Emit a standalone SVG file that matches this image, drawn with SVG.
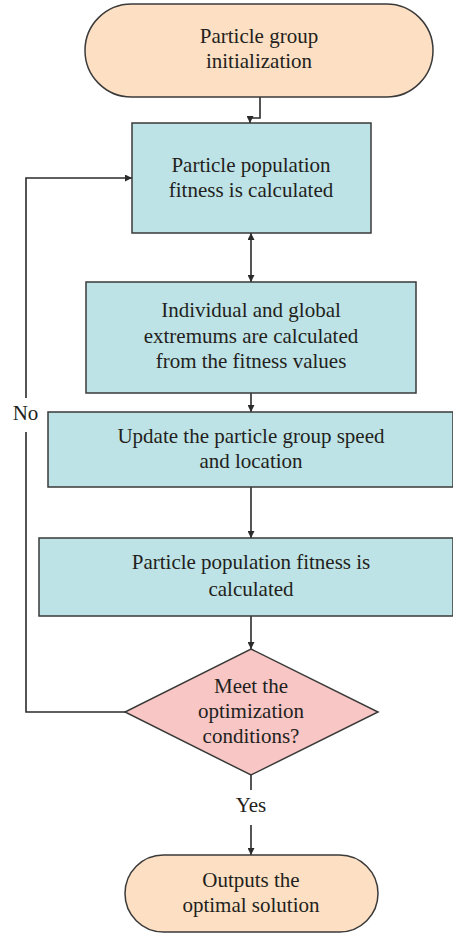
<svg xmlns="http://www.w3.org/2000/svg" width="453" height="934" viewBox="0 0 453 934">
  <style>
    .term { fill: #fde0c3; stroke: #3a3a3a; stroke-width: 1.5; }
    .proc { fill: #bee3e6; stroke: #3a3a3a; stroke-width: 1.5; }
    .dec { fill: #f8c6c5; stroke: #3a3a3a; stroke-width: 1.5; }
    .conn { fill: none; stroke: #2b2b2b; stroke-width: 1.6; }
    text { font-family: "Liberation Serif", "Times New Roman", serif; font-size: 21px; fill: #231f20; text-anchor: middle; }
  </style>
  <defs>
    <marker id="arrow" viewBox="0 0 10 10" refX="10" refY="5" markerWidth="7" markerHeight="7" markerUnits="userSpaceOnUse" orient="auto-start-reverse">
      <path d="M0,0 L10,5 L0,10 z" fill="#2b2b2b"/>
    </marker>
  </defs>

  <g id="connectors">
    <path class="conn" d="M260,97 V118 H250 V123" marker-end="url(#arrow)"/>
    <path class="conn" d="M251,233 V282" marker-start="url(#arrow)" marker-end="url(#arrow)"/>
    <path class="conn" d="M251,393 V412" marker-end="url(#arrow)"/>
    <path class="conn" d="M251,487 V538" marker-end="url(#arrow)"/>
    <path class="conn" d="M251,616 V649" marker-end="url(#arrow)"/>
    <path class="conn" d="M125,712 H26 V432"/>
    <path class="conn" d="M26,398 V178 H132" marker-end="url(#arrow)"/>
    <path class="conn" d="M251,775 V790"/>
    <path class="conn" d="M251,825 V855" marker-end="url(#arrow)"/>
    <text x="25.5" y="420">No</text>
    <text x="251" y="812">Yes</text>
  </g>

  <g id="start">
    <rect class="term" x="85" y="4" width="348" height="93" rx="46.5" ry="46.5"/>
    <text x="259" y="43">Particle group</text>
    <text x="259" y="68">initialization</text>
  </g>

  <g id="fitness1">
    <rect class="proc" x="132" y="123" width="239" height="110"/>
    <text x="251" y="172">Particle population</text>
    <text x="251" y="197">fitness is calculated</text>
  </g>

  <g id="extremums">
    <rect class="proc" x="86" y="282" width="330" height="111"/>
    <text x="251" y="317">Individual and global</text>
    <text x="251" y="343">extremums are calculated</text>
    <text x="251" y="368">from the fitness values</text>
  </g>

  <g id="update">
    <rect class="proc" x="48" y="412" width="405" height="75"/>
    <text x="251" y="443">Update the particle group speed</text>
    <text x="251" y="468">and location</text>
  </g>

  <g id="fitness2">
    <rect class="proc" x="39" y="538" width="414" height="78"/>
    <text x="251" y="569">Particle population fitness is</text>
    <text x="251" y="596">calculated</text>
  </g>

  <g id="condition">
    <polygon class="dec" points="251,649 378,712 251,775 125,712"/>
    <text x="251" y="693">Meet the</text>
    <text x="251" y="718">optimization</text>
    <text x="251" y="743">conditions?</text>
  </g>

  <g id="end">
    <rect class="term" x="125" y="855" width="253" height="77" rx="38.5" ry="38.5"/>
    <text x="251" y="887">Outputs the</text>
    <text x="251" y="912">optimal solution</text>
  </g>
</svg>
